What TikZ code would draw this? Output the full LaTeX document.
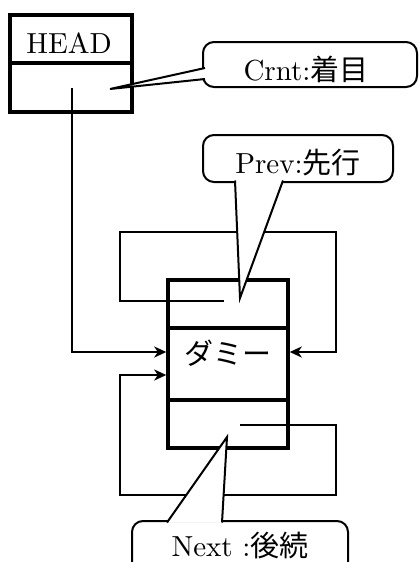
\documentclass[tikz,border=0pt]{standalone}
\usepackage{fontspec}
\newfontfamily\jp{Noto Sans CJK JP}
\newfontfamily\lmten{lmroman10-regular.otf}
\usetikzlibrary{arrows.meta}
\begin{document}
\begin{tikzpicture}[x=1pt,y=-1pt,
  cell/.style={draw, line width=3.5pt, inner sep=0pt, rectangle},
  lbl/.style={inner sep=0pt, font=\lmten\fontsize{29}{35}\selectfont},
  conn/.style={line width=2pt},
  arr/.style={conn, -{Stealth[length=12pt,width=11pt,inset=3.5pt]}},
  bubble/.style={draw, line width=2pt, rounded corners=11pt, inner sep=0pt, rectangle},
  tail/.style={draw, fill=white, line width=2pt, line join=miter}]
\useasboundingbox (0,0) rectangle (419,562);
\clip (0,0) rectangle (419,562);
% HEAD box
\node[cell, minimum width=122pt, minimum height=48pt] (headtop) at (71,39) {};
\node[cell, minimum width=122pt, minimum height=49pt] (headbot) at (71,87.5) {};
\node[lbl, anchor=base] (headtxt) at (69,53) {HEAD};
% dummy node
\node[cell, minimum width=120pt, minimum height=48pt] (dprev) at (228,304) {};
\node[cell, minimum width=120pt, minimum height=72pt] (dmid) at (228,364) {};
\node[cell, minimum width=120pt, minimum height=48pt] (dnext) at (228,424) {};
\node[lbl] (dtxt) at (228,353) {\jp ダミー};
% connectors
\coordinate (yA) at (0,352);
\coordinate (yB) at (0,375);
\coordinate (hstart) at (72,88);
\coordinate (pstart) at (224,301);
\coordinate (nstart) at (240,425);
\draw[arr] (hstart) -- (72,352) -- (dmid.west |- yA);
\draw[arr] (pstart) -- (120,301) -- (120,232) -- (336,232) -- (336,352) -- (dmid.east |- yA);
\draw[arr] (nstart) -- (336,425) -- (336,495) -- (120,495) -- (120,375) -- (dmid.west |- yB);
% callouts
\node[bubble, minimum width=214pt, minimum height=45pt] (crnt) at (310,64.5) {};
\node[lbl, anchor=base] (crnttxt) at (306,80) {Crnt:\jp 着目};
\coordinate (c1) at (205,68);
\coordinate (c2) at (205,79);
\coordinate (ctip) at (110,89);
\draw[tail] (c1) -- (ctip) -- (c2);
\node[bubble, minimum width=190pt, minimum height=47pt] (prev) at (298,158.5) {};
\node[lbl, anchor=base] (prevtxt) at (298,173) {Prev:\jp 先行};
\coordinate (p1) at (235,180.5);
\coordinate (p2) at (283,180.5);
\coordinate (ptip) at (240,298);
\draw[tail] (p1) -- (ptip) -- (p2);
\node[bubble, minimum width=216pt, minimum height=60pt] (next) at (240,551) {};
\node[lbl, anchor=base] (nexttxt) at (240,556) {Next :\jp 後続};
\coordinate (n1) at (167,522.5);
\coordinate (n2) at (222,522.5);
\coordinate (ntip) at (227,437);
\draw[tail] (n1) -- (ntip) -- (n2);
\end{tikzpicture}
\end{document}
